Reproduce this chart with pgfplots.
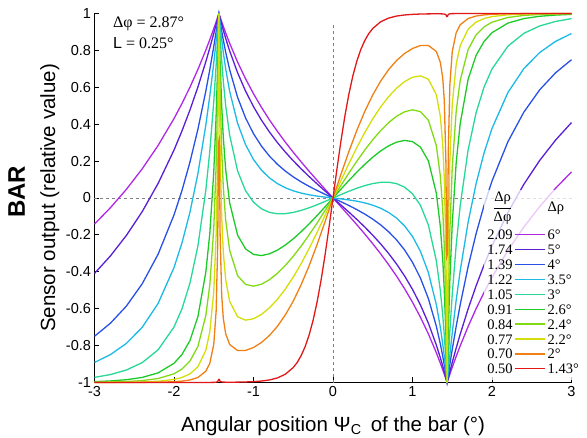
\documentclass[border=0pt]{standalone}
\usepackage{fontspec}
\setmainfont{Liberation Sans}
\newfontfamily\serif{Liberation Serif}
\usepackage{pgfplots}
\usepackage{pgfplotstable}
\pgfplotsset{compat=1.18}

\definecolor{c143}{RGB}{226,24,24}
\definecolor{c200}{RGB}{240,128,20}
\definecolor{c220}{RGB}{212,222,10}
\definecolor{c240}{RGB}{130,218,20}
\definecolor{c260}{RGB}{30,202,40}
\definecolor{c300}{RGB}{40,216,150}
\definecolor{c350}{RGB}{30,186,230}
\definecolor{c400}{RGB}{40,80,230}
\definecolor{c500}{RGB}{90,30,215}
\definecolor{c600}{RGB}{175,40,230}

\newcommand\legfont{\serif\fontsize{14.5}{14.9}\selectfont}
\newcommand\lsamp[1]{\textcolor{#1}{\rule[0.3em]{30pt}{1.3pt}}}
% legend: ratio, line sample, acceptance angle
\newcommand\legtab{%
  \setlength\tabcolsep{0pt}\renewcommand\arraystretch{1}%
  \begin{tabular}{r@{\hspace{2pt}}c@{\hspace{3pt}}l}
  $\displaystyle\frac{\hbox{\legfont Δρ}}{\hbox{\legfont Δφ}}$\rule[-18pt]{0pt}{0pt} & & Δρ\\
  2.09 & \lsamp{c600} & 6°\\
  1.74 & \lsamp{c500} & 5°\\
  1.39 & \lsamp{c400} & 4°\\
  1.22 & \lsamp{c350} & 3.5°\\
  1.05 & \lsamp{c300} & 3°\\
  0.91 & \lsamp{c260} & 2.6°\\
  0.84 & \lsamp{c240} & 2.4°\\
  0.77 & \lsamp{c220} & 2.2°\\
  0.70 & \lsamp{c200} & 2°\\
  0.50 & \lsamp{c143} & 1.43°
  \end{tabular}}

% sensor output vs bar position, one column per acceptance angle
\pgfplotstableread{
x      r143    r200    r220    r240    r260    r300    r350    r400    r500    r600
-3.00 -1.0000 -1.0000 -0.9997 -0.9986 -0.9952 -0.9722 -0.8914 -0.7494 -0.4088 -0.1414
-2.80 -1.0000 -0.9999 -0.9994 -0.9973 -0.9915 -0.9570 -0.8490 -0.6788 -0.3141 -0.0528
-2.60 -1.0000 -0.9998 -0.9987 -0.9948 -0.9849 -0.9325 -0.7885 -0.5865 -0.2036  0.0464
-2.40 -1.0000 -0.9994 -0.9970 -0.9896 -0.9724 -0.8923 -0.7011 -0.4650 -0.0739  0.1580
-2.20 -1.0000 -0.9985 -0.9932 -0.9785 -0.9479 -0.8229 -0.5715 -0.3049  0.0788  0.2848
-2.00 -1.0000 -0.9957 -0.9832 -0.9529 -0.8960 -0.6993 -0.3771 -0.0919  0.2598  0.4304
-1.90 -1.0000 -0.9925 -0.9726 -0.9274 -0.8486 -0.6010 -0.2441  0.0402  0.3631  0.5118
-1.80 -1.0000 -0.9863 -0.9535 -0.8844 -0.7733 -0.4625 -0.0781  0.1933  0.4763  0.5999
-1.70 -1.0000 -0.9730 -0.9153 -0.8052 -0.6445 -0.2615  0.1303  0.3713  0.6007  0.6961
-1.60 -0.9999 -0.9388 -0.8256 -0.6377 -0.4033  0.0414  0.3943  0.5786  0.7383  0.8013
-1.55 -0.9997 -0.8967 -0.7260 -0.4723 -0.1938  0.2523  0.5521  0.6949  0.8127  0.8580
-1.50 -0.9992 -0.7937 -0.5087 -0.1655  0.1385  0.5219  0.7311  0.8207  0.8913  0.9177
-1.47 -0.9982 -0.6138 -0.2043  0.1769  0.4457  0.7211  0.8495  0.9011  0.9406  0.9549
-1.45 -0.9952 -0.2494  0.2410  0.5560  0.7274  0.8735  0.9339  0.9570  0.9742  0.9805
-1.44 -0.9845  0.3029  0.6695  0.8297  0.9018  0.9566  0.9777  0.9856  0.9914  0.9935
-1.435 nan     nan     1       1       1       1       1       1       1       1
-1.43 -0.9833  0.3192  0.6777  0.8337  0.9037  0.9572  0.9779  0.9856  0.9914  0.9935
-1.42 -0.9940 -0.1977  0.2820  0.5803  0.7411  0.8784  0.9357  0.9578  0.9744  0.9805
-1.40 -0.9970 -0.5283 -0.1040  0.2574  0.5000  0.7441  0.8586  0.9053  0.9417  0.9552
-1.38 -0.9978 -0.6516 -0.2922  0.0613  0.3304  0.6338  0.7899  0.8570  0.9103  0.9306
-1.35 -0.9982 -0.7356 -0.4423 -0.1196  0.1543  0.5014  0.7004  0.7907  0.8656  0.8951
-1.30 -0.9984 -0.7938 -0.5602 -0.2836 -0.0259  0.3408  0.5783  0.6952  0.7971  0.8388
-1.20 -0.9980 -0.8270 -0.6437 -0.4212 -0.2012  0.1465  0.4047  0.5454  0.6789  0.7367
-1.10 -0.9971 -0.8262 -0.6621 -0.4681 -0.2757  0.0394  0.2890  0.4341  0.5796  0.6463
-1.00 -0.9953 -0.8104 -0.6544 -0.4780 -0.3058 -0.0229  0.2085  0.3487  0.4952  0.5650
-0.90 -0.9921 -0.7832 -0.6309 -0.4672 -0.3120 -0.0588  0.1510  0.2814  0.4221  0.4914
-0.80 -0.9862 -0.7453 -0.5955 -0.4432 -0.3027 -0.0779  0.1091  0.2273  0.3582  0.4238
-0.70 -0.9753 -0.6959 -0.5496 -0.4086 -0.2829 -0.0854  0.0783  0.1830  0.3008  0.3615
-0.60 -0.9553 -0.6340 -0.4938 -0.3658 -0.2551 -0.0848  0.0556  0.1460  0.2491  0.3030
-0.50 -0.9189 -0.5589 -0.4288 -0.3158 -0.2212 -0.0782  0.0389  0.1145  0.2017  0.2479
-0.45 -0.8911  nan     nan     nan     nan     nan     nan     nan     nan     nan
-0.40 -0.8538 -0.4695 -0.3554 -0.2602 -0.1825 -0.0672  0.0265  0.0872  0.1577  0.1954
-0.35 -0.8052  nan     nan     nan     nan     nan     nan     nan     nan     nan
-0.30 -0.7421 -0.3668 -0.2739 -0.1995 -0.1400 -0.0530  0.0173  0.0629  0.1162  0.1448
-0.25 -0.6623  nan     nan     nan     nan     nan     nan     nan     nan     nan
-0.20 -0.5636 -0.2520 -0.1863 -0.1352 -0.0950 -0.0365  0.0104  0.0408  0.0765  0.0958
-0.15 -0.4454  nan     nan     nan     nan     nan     nan     nan     nan     nan
-0.10 -0.3090 -0.1284 -0.0943 -0.0683 -0.0479 -0.0186  0.0048  0.0201  0.0380  0.0477
-0.05 -0.1584  nan     nan     nan     nan     nan     nan     nan     nan     nan
 0.00  0       0       0       0       0       0       0       0       0       0
 0.05  0.1584  nan     nan     nan     nan     nan     nan     nan     nan     nan
 0.10  0.3090  0.1284  0.0943  0.0683  0.0479  0.0186 -0.0048 -0.0201 -0.0380 -0.0477
 0.15  0.4454  nan     nan     nan     nan     nan     nan     nan     nan     nan
 0.20  0.5636  0.2520  0.1863  0.1352  0.0950  0.0365 -0.0104 -0.0408 -0.0765 -0.0958
 0.25  0.6623  nan     nan     nan     nan     nan     nan     nan     nan     nan
 0.30  0.7421  0.3668  0.2739  0.1995  0.1400  0.0530 -0.0173 -0.0629 -0.1162 -0.1448
 0.35  0.8052  nan     nan     nan     nan     nan     nan     nan     nan     nan
 0.40  0.8538  0.4695  0.3554  0.2602  0.1825  0.0672 -0.0265 -0.0872 -0.1577 -0.1954
 0.45  0.8911  nan     nan     nan     nan     nan     nan     nan     nan     nan
 0.50  0.9189  0.5589  0.4288  0.3158  0.2212  0.0782 -0.0389 -0.1145 -0.2017 -0.2479
 0.60  0.9553  0.6340  0.4938  0.3658  0.2551  0.0848 -0.0556 -0.1460 -0.2491 -0.3030
 0.70  0.9753  0.6959  0.5496  0.4086  0.2829  0.0854 -0.0783 -0.1830 -0.3008 -0.3615
 0.80  0.9862  0.7453  0.5955  0.4432  0.3027  0.0779 -0.1091 -0.2273 -0.3582 -0.4238
 0.90  0.9921  0.7832  0.6309  0.4672  0.3120  0.0588 -0.1510 -0.2814 -0.4221 -0.4914
 1.00  0.9953  0.8104  0.6544  0.4780  0.3058  0.0229 -0.2085 -0.3487 -0.4952 -0.5650
 1.10  0.9971  0.8262  0.6621  0.4681  0.2757 -0.0394 -0.2890 -0.4341 -0.5796 -0.6463
 1.20  0.9980  0.8270  0.6437  0.4212  0.2012 -0.1465 -0.4047 -0.5454 -0.6789 -0.7367
 1.30  0.9984  0.7938  0.5602  0.2836  0.0259 -0.3408 -0.5783 -0.6952 -0.7971 -0.8388
 1.35  0.9982  0.7356  0.4423  0.1196 -0.1543 -0.5014 -0.7004 -0.7907 -0.8656 -0.8951
 1.38  0.9978  0.6516  0.2922 -0.0613 -0.3304 -0.6338 -0.7899 -0.8570 -0.9103 -0.9306
 1.40  0.9970  0.5283  0.1040 -0.2574 -0.5000 -0.7441 -0.8586 -0.9053 -0.9417 -0.9552
 1.42  0.9940  0.1977 -0.2820 -0.5803 -0.7411 -0.8784 -0.9357 -0.9578 -0.9744 -0.9805
 1.43  0.9833 -0.3192 -0.6777 -0.8337 -0.9037 -0.9572 -0.9779 -0.9856 -0.9914 -0.9935
 1.435 nan     nan    -1      -1      -1      -1      -1      -1      -1      -1
 1.44  0.9845 -0.3029 -0.6695 -0.8297 -0.9018 -0.9566 -0.9777 -0.9856 -0.9914 -0.9935
 1.45  0.9952  0.2494 -0.2410 -0.5560 -0.7274 -0.8735 -0.9339 -0.9570 -0.9742 -0.9805
 1.47  0.9982  0.6138  0.2043 -0.1769 -0.4457 -0.7211 -0.8495 -0.9011 -0.9406 -0.9549
 1.50  0.9992  0.7937  0.5087  0.1655 -0.1385 -0.5219 -0.7311 -0.8207 -0.8913 -0.9177
 1.55  0.9997  0.8967  0.7260  0.4723  0.1938 -0.2523 -0.5521 -0.6949 -0.8127 -0.8580
 1.60  0.9999  0.9388  0.8256  0.6377  0.4033 -0.0414 -0.3943 -0.5786 -0.7383 -0.8013
 1.70  1.0000  0.9730  0.9153  0.8052  0.6445  0.2615 -0.1303 -0.3713 -0.6007 -0.6961
 1.80  1.0000  0.9863  0.9535  0.8844  0.7733  0.4625  0.0781 -0.1933 -0.4763 -0.5999
 1.90  1.0000  0.9925  0.9726  0.9274  0.8486  0.6010  0.2441 -0.0402 -0.3631 -0.5118
 2.00  1.0000  0.9957  0.9832  0.9529  0.8960  0.6993  0.3771  0.0919 -0.2598 -0.4304
 2.20  1.0000  0.9985  0.9932  0.9785  0.9479  0.8229  0.5715  0.3049 -0.0788 -0.2848
 2.40  1.0000  0.9994  0.9970  0.9896  0.9724  0.8923  0.7011  0.4650  0.0739 -0.1580
 2.60  1.0000  0.9998  0.9987  0.9948  0.9849  0.9325  0.7885  0.5865  0.2036 -0.0464
 2.80  1.0000  0.9999  0.9994  0.9973  0.9915  0.9570  0.8490  0.6788  0.3141  0.0528
 3.00  1.0000  1.0000  0.9997  0.9986  0.9952  0.9722  0.8914  0.7494  0.4088  0.1414
}\curves

\begin{document}
\begin{tikzpicture}
\begin{axis}[
    width=477pt, height=369pt, scale only axis,
    xmin=-3, xmax=3, ymin=-1, ymax=1,
    xtick={-3,-2,-1,0,1,2,3},
    ytick={-1,-0.8,-0.6,-0.4,-0.2,0,0.2,0.4,0.6,0.8,1},
    axis lines=left,
    x axis line style={-}, y axis line style={-},
    axis line style={line width=1.8pt},
    tick align=inside, major tick length=5pt,
    tick style={black, line width=0.9pt},
    /pgf/number format/assume math mode=true,
    tick label style={font=\fontsize{14.5}{16}\selectfont},
    xlabel={Angular position Ψ\textsubscript{C}\, of the bar (°)},
    ylabel={Sensor output (relative value)},
    label style={font=\fontsize{20.5}{24}\selectfont},
    xlabel style={at={(axis description cs:0.5,0)}, anchor=base, yshift=-49pt},
    ylabel style={at={(axis description cs:-0.0828,0.5)}, anchor=base, rotate=0},
    clip=false,
    every axis plot/.append style={line width=1.3pt},
]

\addplot[gray, dashed, line width=0.9pt] coordinates {(-3,0) (3,0)};
\addplot[gray, dashed, line width=0.9pt] coordinates {(0,-1) (0,0.94)};

\addplot[c600] table[x=x, y=r600] {\curves};
\addplot[c500] table[x=x, y=r500] {\curves};
\addplot[c400] table[x=x, y=r400] {\curves};
\addplot[c350] table[x=x, y=r350] {\curves};
\addplot[c300] table[x=x, y=r300] {\curves};
\addplot[c260] table[x=x, y=r260] {\curves};
\addplot[c240] table[x=x, y=r240] {\curves};
\addplot[c220] table[x=x, y=r220] {\curves};
\addplot[c200] table[x=x, y=r200] {\curves};
\addplot[c143] table[x=x, y=r143] {\curves};

\node[anchor=base west, align=left, inner sep=0pt, font=\serif\fontsize{16}{21}\selectfont]
  at (axis description cs:0.0388,0.905) {Δφ = 2.87°\\{\normalfont L} = 0.25°};
\node[rotate=90, anchor=base, font=\bfseries\fontsize{24}{28}\selectfont]
  at (axis description cs:-0.1457,0.517) {BAR};
\end{axis}
\node[anchor=south east, fill=white, fill opacity=0.75, text opacity=1,
      inner xsep=3pt, inner ysep=2pt, font=\legfont] at (487.5pt,2pt) {\legtab};
\pgfresetboundingbox
\path[use as bounding box] (-94.5pt,-54.5pt) rectangle (492.5pt,382.5pt);
\end{tikzpicture}
\end{document}
